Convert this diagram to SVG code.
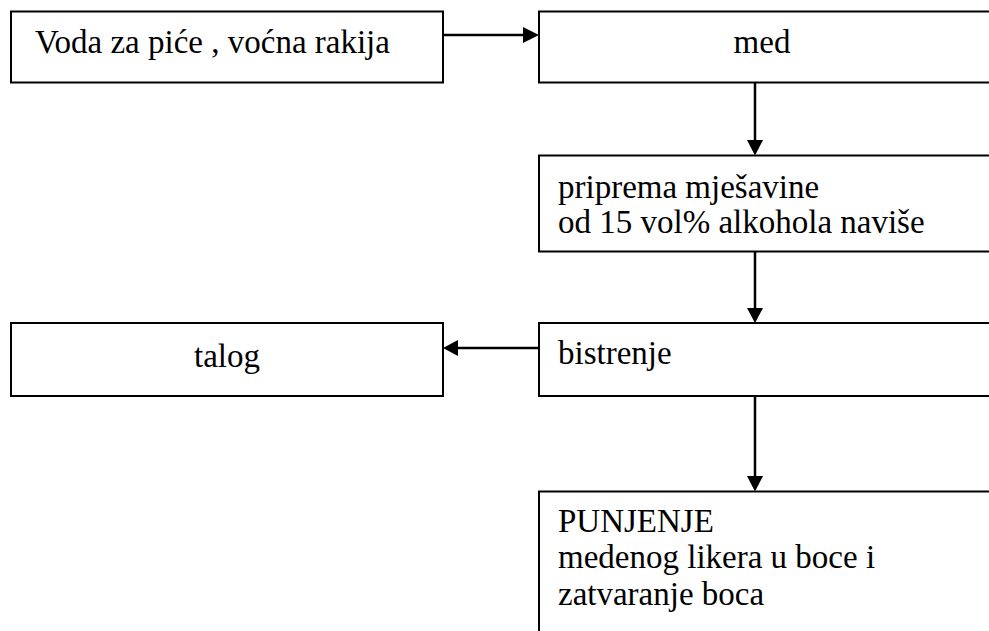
<svg xmlns="http://www.w3.org/2000/svg" width="989" height="631" viewBox="0 0 989 631">
<style>
.box{fill:#fff;stroke:#000;stroke-width:2}
.t{font-family:"Liberation Serif","Times New Roman",serif;font-size:33px;fill:#000}
.c{stroke:#000;stroke-width:2.5;fill:none}
.h{fill:#000;stroke:none}
</style>
<rect width="989" height="631" fill="#fff"/>
<g id="n1"><rect class="box" x="11" y="11.5" width="432" height="71"/><text class="t" x="35" y="53">Voda za piće , voćna rakija</text></g>
<g id="n2"><rect class="box" x="539" y="11.5" width="470" height="71"/><text class="t" x="762" y="53" text-anchor="middle">med</text></g>
<g id="n3"><rect class="box" x="539" y="155.5" width="470" height="96"/><text class="t" x="558" y="198">priprema mješavine</text><text class="t" x="558" y="233">od 15 vol% alkohola naviše</text></g>
<g id="n4"><rect class="box" x="11" y="323" width="432" height="73"/><text class="t" x="227" y="367" text-anchor="middle">talog</text></g>
<g id="n5"><rect class="box" x="539" y="323" width="470" height="73"/><text class="t" x="558" y="364">bistrenje</text></g>
<g id="n6"><rect class="box" x="539" y="491.5" width="470" height="160"/><text class="t" x="558" y="532">PUNJENJE</text><text class="t" x="558" y="568">medenog likera u boce i</text><text class="t" x="558" y="605">zatvaranje boca</text></g>
<g id="connectors">
<line class="c" x1="443" y1="35" x2="524" y2="35"/><polygon class="h" points="539,35 523,27 523,43"/>
<line class="c" x1="755" y1="82.5" x2="755" y2="141"/><polygon class="h" points="755,155.5 747,140 763,140"/>
<line class="c" x1="755" y1="251.5" x2="755" y2="309"/><polygon class="h" points="755,323 747,308 763,308"/>
<line class="c" x1="539" y1="348" x2="458" y2="348"/><polygon class="h" points="443,348 458,340 458,356"/>
<line class="c" x1="755" y1="396" x2="755" y2="477"/><polygon class="h" points="755,491.5 747,476 763,476"/>
</g>
</svg>
